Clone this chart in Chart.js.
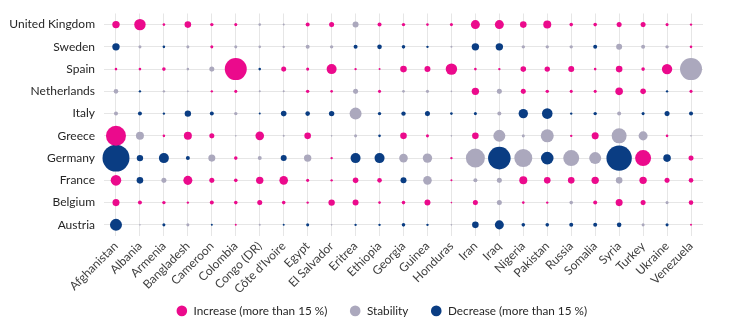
<!DOCTYPE html>
<html>
<head>
<meta charset="utf-8">
<script src="https://cdn.jsdelivr.net/npm/chart.js@4/dist/chart.umd.min.js"></script>
<style>
  html, body { margin: 0; padding: 0; background: #ffffff; }
  #wrap { width: 729px; height: 332px; position: relative; }
</style>
</head>
<body>
<div id="wrap"><canvas id="chart"></canvas></div>
<script>
// Countries of origin (x axis)
const origins = ['Afghanistan', 'Albania', 'Armenia', 'Bangladesh', 'Cameroon', 'Colombia',
  'Congo (DR)', "Côte d'Ivoire", 'Egypt', 'El Salvador', 'Eritrea', 'Ethiopia', 'Georgia',
  'Guinea', 'Honduras', 'Iran', 'Iraq', 'Nigeria', 'Pakistan', 'Russia', 'Somalia', 'Syria',
  'Turkey', 'Ukraine', 'Venezuela'];

// Destination countries (y axis, top to bottom)
const destinations = ['United Kingdom', 'Sweden', 'Spain', 'Netherlands', 'Italy', 'Greece',
  'Germany', 'France', 'Belgium', 'Austria'];

// Volume of applications per origin (bubble area), one array per destination
const volUnitedKingdom = [13.7, 32.5, 1.7, 10.9, 2.9, 2.3, 1.7, 1.0, 4.0, 6.3, 9.0, 4.0, 2.9, 1.7, 2.3, 20.3, 20.3, 10.9, 16.0, 3.2, 3.2, 6.3, 6.3, 2.3, 1.4];
const volSweden        = [13.7, 2.3, 1.7, 2.3, 2.3, 2.3, 1.7, 1.4, 4.0, 2.9, 4.0, 5.3, 3.2, 1.4, 1.0, 13.7, 13.7, 2.9, 2.9, 2.9, 4.0, 9.0, 4.0, 2.9, 1.7];
const volSpain         = [1.7, 1.7, 3.2, 1.7, 6.3, 121, 1.7, 6.3, 2.3, 25.0, 1.4, 1.0, 10.9, 9.0, 32.5, 1.7, 1.4, 7.8, 7.3, 9.0, 1.7, 10.9, 3.2, 27.0, 121];
const volNetherlands   = [5.3, 1.4, 1.4, 0.6, 1.4, 2.3, 1.0, 1.0, 2.9, 1.7, 6.3, 2.3, 1.7, 2.3, 0.6, 13.7, 6.3, 6.3, 2.9, 2.3, 2.3, 14.4, 7.8, 1.4, 2.3];
const volItaly         = [4.0, 4.0, 1.4, 10.2, 4.0, 2.9, 1.0, 7.8, 5.3, 7.3, 36.0, 2.9, 4.8, 6.3, 1.7, 2.3, 4.0, 22.1, 28.1, 1.4, 2.9, 4.0, 2.3, 6.3, 4.0];
const volGreece        = [100, 16.0, 1.7, 16.0, 6.3, 0.6, 18.5, 1.0, 10.9, 0.6, 2.3, 1.7, 10.9, 2.3, 0.6, 10.9, 36.0, 2.3, 42.3, 1.4, 12.3, 56.3, 20.3, 1.7, 0.6];
const volGermany       = [182, 10.2, 25.0, 4.0, 12.3, 3.2, 4.0, 9.0, 13.7, 1.4, 25.0, 25.0, 18.5, 22.1, 1.4, 90.3, 127.7, 81.0, 39.7, 64.0, 36.0, 161.3, 64.0, 14.4, 6.3];
const volFrance        = [28.1, 10.9, 6.3, 20.3, 6.3, 3.2, 13.7, 18.5, 2.3, 1.4, 7.8, 5.3, 9.0, 18.5, 1.0, 4.0, 6.3, 16.0, 10.9, 10.9, 13.7, 10.9, 13.7, 6.3, 5.3];
const volBelgium       = [12.3, 4.0, 2.9, 1.4, 4.0, 3.2, 6.3, 3.2, 1.4, 10.2, 9.0, 1.7, 3.2, 9.0, 0.6, 6.3, 6.3, 1.7, 1.4, 3.2, 4.0, 12.3, 6.3, 2.3, 5.3];
const volAustria       = [36.0, 0.6, 2.3, 2.3, 1.0, 1.0, 1.0, 1.0, 2.3, 0.6, 1.4, 1.4, 3.2, 1.4, 0.6, 10.9, 20.3, 3.2, 3.2, 4.0, 4.0, 5.3, 2.3, 2.3, 1.0];

// Trend per origin: I = increase (> 15 %), S = stability, D = decrease (> 15 %)
const trendUnitedKingdom = 'IIIIIISSIISIIIIIIIIIIIIII';
const trendSweden        = 'DSDSISSSSSDDDDSDDSSSDSSSI';
const trendSpain         = 'IIISSIDIIIIIIIIIIIIIIIIIS';
const trendNetherlands   = 'SDSSIISSIISISSSISIIIIIIDI';
const trendItaly         = 'SDDDDSDDDDSDDDDDSDDDDSDDD';
const trendGreece        = 'ISIIISISISSDIISISSSIISSIS';
const trendGermany       = 'DDDDSISDSIDDSSISDSDSSDIDI';
const trendFrance        = 'IDSIIIIIIIIIDSISSIIIISIII';
const trendBelgium       = 'IIIIIIIIIIIIIIIISIISIIISI';
const trendAustria       = 'DSDSDISDDSDDDDSDDDDDDDSDI';

const rowVolumes = [volUnitedKingdom, volSweden, volSpain, volNetherlands, volItaly,
  volGreece, volGermany, volFrance, volBelgium, volAustria];
const rowTrends = [trendUnitedKingdom, trendSweden, trendSpain, trendNetherlands, trendItaly,
  trendGreece, trendGermany, trendFrance, trendBelgium, trendAustria];

const trendLabels = ['Increase (more than 15 %)', 'Stability', 'Decrease (more than 15 %)'];
const trendCodes = ['I', 'S', 'D'];
const trendColors = ['#EB0A8C', '#ABA8BD', '#0A3D83'];

// bubble radius grows with the square root of the volume
const radiusOf = v => Math.sqrt(v);

const datasets = trendCodes.map((code, k) => {
  const pts = [];
  destinations.forEach((dest, i) => {
    origins.forEach((orig, j) => {
      if (rowTrends[i][j] === code) {
        pts.push({ x: orig, y: dest, r: radiusOf(rowVolumes[i][j]), v: rowVolumes[i][j] });
      }
    });
  });
  return {
    label: trendLabels[k],
    data: pts,
    backgroundColor: trendColors[k],
    borderColor: trendColors[k],
    borderWidth: 0,
    hoverBorderWidth: 0,
    hoverRadius: 0
  };
});

const FONT = 'Lato, "Open Sans", sans-serif';

// nudges the legend row after layout
const legendShift = {
  id: 'legendShift',
  afterLayout(chart, args, opts) {
    const lg = chart.legend;
    if (lg) {
      lg.left += opts.dx; lg.right += opts.dx;
      lg.top += opts.dy; lg.bottom += opts.dy;
    }
  }
};

new Chart(document.getElementById('chart'), {
  type: 'bubble',
  data: { datasets },
  plugins: [legendShift],
  options: {
    responsive: true,
    maintainAspectRatio: false,
    animation: false,
    layout: { padding: { top: 11, left: 10, right: 26, bottom: 4 } },
    scales: {
      x: {
        type: 'category',
        labels: origins,
        offset: true,
        grid: { color: '#E6E6E6', lineWidth: 1, offset: false, drawTicks: false },
        border: { display: false },
        ticks: {
          color: '#404040',
          font: { family: FONT, size: 12 },
          minRotation: 45,
          maxRotation: 45,
          autoSkip: false,
          padding: 3
        },
        afterFit(scale) { scale.height = 56; }
      },
      y: {
        type: 'category',
        labels: destinations,
        offset: true,
        grid: { color: '#E6E6E6', lineWidth: 1, offset: false, drawTicks: false },
        border: { display: false },
        ticks: {
          color: '#262626',
          font: { family: FONT, size: 12 },
          autoSkip: false,
          padding: 9
        },
        afterFit(scale) {
          scale.width = 94;
          scale.paddingTop = 0;
          scale.paddingBottom = 0;
        }
      }
    },
    plugins: {
      legend: {
        position: 'bottom',
        maxHeight: 36,
        labels: {
          usePointStyle: true,
          pointStyle: 'circle',
          boxWidth: 12,
          boxHeight: 7.5,
          padding: 22,
          color: '#262626',
          font: { family: FONT, size: 11.75 }
        }
      },
      legendShift: { dx: 25, dy: -9 },
      tooltip: { enabled: false }
    }
  }
});
</script>
</body>
</html>
